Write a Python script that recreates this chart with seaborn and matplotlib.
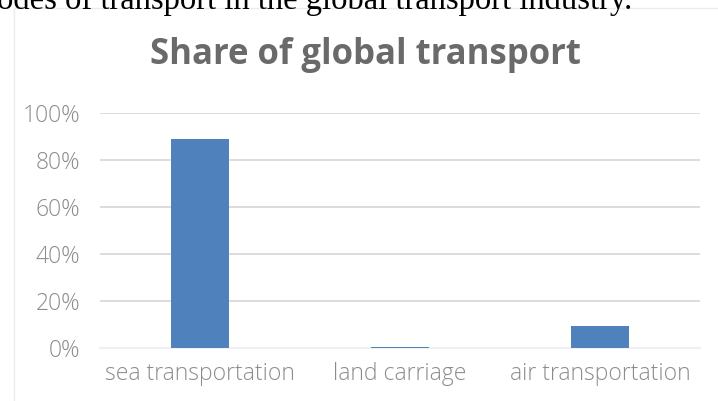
import matplotlib
matplotlib.use("Agg")
import matplotlib.pyplot as plt
import seaborn as sns
import pandas as pd
from matplotlib.patches import Rectangle
from matplotlib.ticker import FuncFormatter

categories = ["sea transportation", "land carriage", "air transportation"]
shares = [0.89, 0.006, 0.095]
yticks = [0, 0.2, 0.4, 0.6, 0.8, 1.0]
title = "Share of global transport"
caption = "odes of transport in the global transport industry."

sns.set_theme(style="white")
plt.rcParams["font.family"] = ["Open Sans", "DejaVu Sans"]

W, H = 718, 401
fig = plt.figure(figsize=(W / 100, H / 100), dpi=100)

def px(x, y):
    return x / W, 1 - y / H

# chart area border
fig.patches.append(Rectangle(px(14, 8), 1.0, -1.0, transform=fig.transFigure,
                             fill=False, edgecolor="#ECECEC", linewidth=1.0))

ax = fig.add_axes([100 / W, 53 / H, 600 / W, (348 - 112.7) / H])
df = pd.DataFrame({"category": categories, "share": shares})
sns.barplot(data=df, x="category", y="share", color="#4F81BD", saturation=1,
            width=0.29, ax=ax, zorder=3, edgecolor="none", linewidth=0)
ax.set_xlim(-0.5, 2.5)
ax.set_ylim(0, 1.0)
ax.set_yticks(yticks)
ax.yaxis.set_major_formatter(FuncFormatter(lambda v, p: f"{int(round(v * 100))}%"))
ax.grid(axis="y", color="#D9D9D9", linewidth=1.3, zorder=0)
ax.grid(axis="x", visible=False)
for s in ["top", "right", "left"]:
    ax.spines[s].set_visible(False)
ax.spines["bottom"].set_color("#F0F0F0")
ax.spines["bottom"].set_linewidth(1.3)
ax.spines["bottom"].set_zorder(1)
ax.set_xlabel("")
ax.set_ylabel("")
ax.tick_params(axis="y", length=0, pad=14, labelsize=16.5, labelcolor="#8C8C8C")
ax.tick_params(axis="x", length=0, pad=10, labelsize=16.5, labelcolor="#8C8C8C")
for lab in ax.get_xticklabels() + ax.get_yticklabels():
    lab.set_fontweight("light")

fig.text(365 / W, 1 - 55 / H, title, ha="center", va="center", fontsize=25,
         fontweight="bold", color="#6A6A6A")
fig.text(-3 / W, 1 - 9 / H, caption, ha="left", va="baseline", fontsize=23.5,
         family=["Liberation Serif", "DejaVu Serif"], color="#000000")

fig.savefig("out.png", dpi=100)
